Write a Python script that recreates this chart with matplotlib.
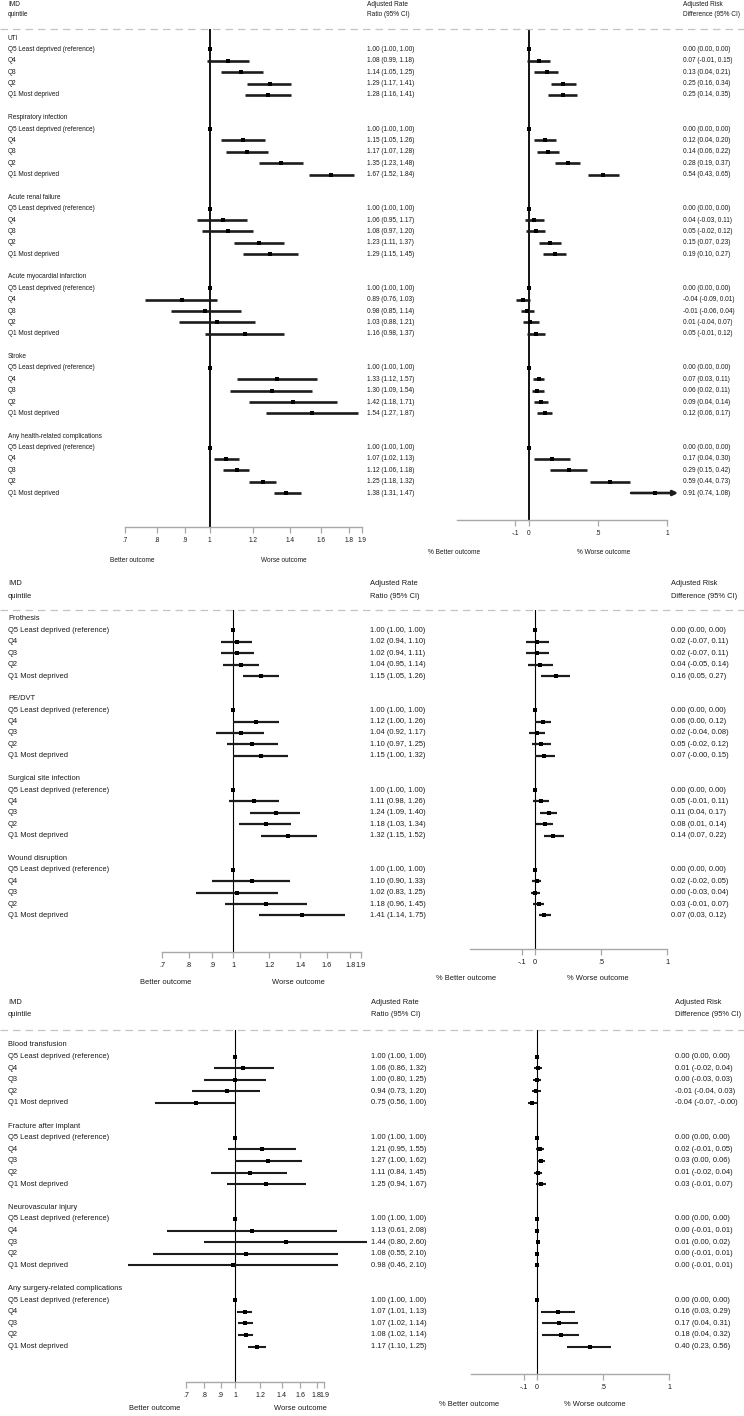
import matplotlib
matplotlib.use("Agg")
import matplotlib.pyplot as plt
from matplotlib.ticker import NullLocator, FixedLocator, FixedFormatter
from matplotlib.transforms import blended_transform_factory

plt.rcParams['font.family'] = ['Liberation Sans', 'DejaVu Sans']

W, H = 744, 1416
fig = plt.figure(figsize=(W / 100, H / 100), dpi=100)

quintiles = ["Q5 Least deprived (reference)", "Q4", "Q3", "Q2", "Q1 Most deprived"]

# ---------------- Panel 1: health-related complications ----------------
p1_outcomes = ["UTI", "Respiratory infection", "Acute renal failure",
               "Acute myocardial infarction", "Stroke", "Any health-related complications"]
p1_rr = [[1.00, 1.08, 1.14, 1.29, 1.28], [1.00, 1.15, 1.17, 1.35, 1.67],
         [1.00, 1.06, 1.08, 1.23, 1.29], [1.00, 0.89, 0.98, 1.03, 1.16],
         [1.00, 1.33, 1.30, 1.42, 1.54], [1.00, 1.07, 1.12, 1.25, 1.38]]
p1_rr_lo = [[1.00, 0.99, 1.05, 1.17, 1.16], [1.00, 1.05, 1.07, 1.23, 1.52],
            [1.00, 0.95, 0.97, 1.11, 1.15], [1.00, 0.76, 0.85, 0.88, 0.98],
            [1.00, 1.12, 1.09, 1.18, 1.27], [1.00, 1.02, 1.06, 1.18, 1.31]]
p1_rr_hi = [[1.00, 1.18, 1.25, 1.41, 1.41], [1.00, 1.26, 1.28, 1.48, 1.84],
            [1.00, 1.17, 1.20, 1.37, 1.45], [1.00, 1.03, 1.14, 1.21, 1.37],
            [1.00, 1.57, 1.54, 1.71, 1.87], [1.00, 1.13, 1.18, 1.32, 1.47]]
p1_rd = [[0.00, 0.07, 0.13, 0.25, 0.25], [0.00, 0.12, 0.14, 0.28, 0.54],
         [0.00, 0.04, 0.05, 0.15, 0.19], [0.00, -0.04, -0.01, 0.01, 0.05],
         [0.00, 0.07, 0.06, 0.09, 0.12], [0.00, 0.17, 0.29, 0.59, 0.91]]
p1_rd_lo = [[0.00, -0.01, 0.04, 0.16, 0.14], [0.00, 0.04, 0.06, 0.19, 0.43],
            [0.00, -0.03, -0.02, 0.07, 0.10], [0.00, -0.09, -0.06, -0.04, -0.01],
            [0.00, 0.03, 0.02, 0.04, 0.06], [0.00, 0.04, 0.15, 0.44, 0.74]]
p1_rd_hi = [[0.00, 0.15, 0.21, 0.34, 0.35], [0.00, 0.20, 0.22, 0.37, 0.65],
            [0.00, 0.11, 0.12, 0.23, 0.27], [0.00, 0.01, 0.04, 0.07, 0.12],
            [0.00, 0.11, 0.11, 0.14, 0.17], [0.00, 0.30, 0.42, 0.73, 1.08]]

# ---------------- Panel 2 ----------------
p2_outcomes = ["Prothesis", "PE/DVT", "Surgical site infection", "Wound disruption"]
p2_rr = [[1.00, 1.02, 1.02, 1.04, 1.15], [1.00, 1.12, 1.04, 1.10, 1.15],
         [1.00, 1.11, 1.24, 1.18, 1.32], [1.00, 1.10, 1.02, 1.18, 1.41]]
p2_rr_lo = [[1.00, 0.94, 0.94, 0.95, 1.05], [1.00, 1.00, 0.92, 0.97, 1.00],
            [1.00, 0.98, 1.09, 1.03, 1.15], [1.00, 0.90, 0.83, 0.96, 1.14]]
p2_rr_hi = [[1.00, 1.10, 1.11, 1.14, 1.26], [1.00, 1.26, 1.17, 1.25, 1.32],
            [1.00, 1.26, 1.40, 1.34, 1.52], [1.00, 1.33, 1.25, 1.45, 1.75]]
p2_rd = [[0.00, 0.02, 0.02, 0.04, 0.16], [0.00, 0.06, 0.02, 0.05, 0.07],
         [0.00, 0.05, 0.11, 0.08, 0.14], [0.00, 0.02, 0.00, 0.03, 0.07]]
p2_rd_lo = [[0.00, -0.07, -0.07, -0.05, 0.05], [0.00, 0.00, -0.04, -0.02, -0.0],
            [0.00, -0.01, 0.04, 0.01, 0.07], [0.00, -0.02, -0.03, -0.01, 0.03]]
p2_rd_hi = [[0.00, 0.11, 0.11, 0.14, 0.27], [0.00, 0.12, 0.08, 0.12, 0.15],
            [0.00, 0.11, 0.17, 0.14, 0.22], [0.00, 0.05, 0.04, 0.07, 0.12]]

# ---------------- Panel 3 ----------------
p3_outcomes = ["Blood transfusion", "Fracture after implant", "Neurovascular injury",
               "Any surgery-related complications"]
p3_rr = [[1.00, 1.06, 1.00, 0.94, 0.75], [1.00, 1.21, 1.27, 1.11, 1.25],
         [1.00, 1.13, 1.44, 1.08, 0.98], [1.00, 1.07, 1.07, 1.08, 1.17]]
p3_rr_lo = [[1.00, 0.86, 0.80, 0.73, 0.56], [1.00, 0.95, 1.00, 0.84, 0.94],
            [1.00, 0.61, 0.80, 0.55, 0.46], [1.00, 1.01, 1.02, 1.02, 1.10]]
p3_rr_hi = [[1.00, 1.32, 1.25, 1.20, 1.00], [1.00, 1.55, 1.62, 1.45, 1.67],
            [1.00, 2.08, 2.60, 2.10, 2.10], [1.00, 1.13, 1.14, 1.14, 1.25]]
p3_rd = [[0.00, 0.01, 0.00, -0.01, -0.04], [0.00, 0.02, 0.03, 0.01, 0.03],
         [0.00, 0.00, 0.01, 0.00, 0.00], [0.00, 0.16, 0.17, 0.18, 0.40]]
p3_rd_lo = [[0.00, -0.02, -0.03, -0.04, -0.07], [0.00, -0.01, 0.00, -0.02, -0.01],
            [0.00, -0.01, 0.00, -0.01, -0.01], [0.00, 0.03, 0.04, 0.04, 0.23]]
p3_rd_hi = [[0.00, 0.04, 0.03, 0.03, -0.0], [0.00, 0.05, 0.06, 0.04, 0.07],
            [0.00, 0.01, 0.02, 0.01, 0.01], [0.00, 0.29, 0.31, 0.32, 0.56]]

rr_ticks = [0.7, 0.8, 0.9, 1.0, 1.2, 1.4, 1.6, 1.8, 1.9]
rr_ticklabels = [".7", ".8", ".9", "1", "1.2", "1.4", "1.6", "1.8", "1.9"]
rd_ticks = [-0.1, 0.0, 0.5, 1.0]
rd_ticklabels = ["-.1", "0", ".5", "1"]

# layout (pixels)
panels = [
    dict(outcomes=p1_outcomes, rr=p1_rr, rr_lo=p1_rr_lo, rr_hi=p1_rr_hi,
         rd=p1_rd, rd_lo=p1_rd_lo, rd_hi=p1_rd_hi,
         fs=4.7, tfs=4.7, h1=4, h2=15, dash=29, row0=38, step=11.375,
         L=(125, 362, 527), Lx=(0.7, 1.9), R=(457, 667, 520), Rx=(-0.52, 1.0),
         tx=(8, 367, 683), lab_L=(132, 284, 560), lab_R=(454, 604, 553),
         vlw=1.3, cilw=1.9, ms=2.5),
    dict(outcomes=p2_outcomes, rr=p2_rr, rr_lo=p2_rr_lo, rr_hi=p2_rr_hi,
         rd=p2_rd, rd_lo=p2_rd_lo, rd_hi=p2_rd_hi,
         fs=5.45, tfs=5.3, h1=583, h2=596, dash=610, row0=619, step=11.4,
         L=(162, 361, 952), Lx=(0.7, 1.9), R=(470, 667, 949), Rx=(-0.49, 1.0),
         tx=(8, 370, 671), lab_L=(166, 298, 983), lab_R=(466, 598, 979),
         vlw=0.8, cilw=1.6, ms=2.2),
    dict(outcomes=p3_outcomes, rr=p3_rr, rr_lo=p3_rr_lo, rr_hi=p3_rr_hi,
         rd=p3_rd, rd_lo=p3_rd_lo, rd_hi=p3_rd_hi,
         fs=5.45, tfs=5.1, h1=1003, h2=1015, dash=1030, row0=1045, step=11.6,
         L=(186, 324, 1382), Lx=(0.7, 1.9), R=(471, 669, 1374), Rx=(-0.5, 1.0),
         tx=(8, 371, 675), lab_L=(155, 300, 1409), lab_R=(469, 595, 1404),
         vlw=0.8, cilw=1.5, ms=2.2),
]

AXCOL = "#a8a8a8"
TXT = "#1a1a1a"


def fx(px):
    return px / W


def fy(py):
    return 1 - py / H


def fmt(v, lo, hi):
    return f"{v:.2f} ({lo:.2f}, {hi:.2f})"


def make_ax(x0, x1, ybot, p):
    ax = fig.add_axes([fx(x0), fy(ybot), (x1 - x0) / W, (ybot - p['dash']) / H])
    ax.set_facecolor('none')
    top = (p['dash'] - p['row0']) / p['step']
    bot = (ybot - p['row0']) / p['step']
    ax.set_ylim(bot, top)
    for s in ['top', 'left', 'right']:
        ax.spines[s].set_visible(False)
    ax.spines['bottom'].set_color(AXCOL)
    ax.spines['bottom'].set_linewidth(1.0)
    ax.set_yticks([])
    ax.tick_params(axis='x', direction='out', length=4.5, width=0.9, color=AXCOL,
                   labelsize=p['tfs'], labelcolor=TXT, pad=3)
    return ax


for p in panels:
    fs = p['fs']
    # headers
    fig.text(fx(p['tx'][0]), fy(p['h1']), "IMD", fontsize=fs, va='center', ha='left', color=TXT)
    fig.text(fx(p['tx'][0]), fy(p['h2']), "quintile", fontsize=fs, va='center', ha='left', color=TXT)
    fig.text(fx(p['tx'][1]), fy(p['h1']), "Adjusted Rate", fontsize=fs, va='center', ha='left', color=TXT)
    fig.text(fx(p['tx'][1]), fy(p['h2']), "Ratio (95% CI)", fontsize=fs, va='center', ha='left', color=TXT)
    fig.text(fx(p['tx'][2]), fy(p['h1']), "Adjusted Risk", fontsize=fs, va='center', ha='left', color=TXT)
    fig.text(fx(p['tx'][2]), fy(p['h2']), "Difference (95% CI)", fontsize=fs, va='center', ha='left', color=TXT)
    # dashed separator
    fig.add_artist(plt.Line2D([0, 1], [fy(p['dash'])] * 2, transform=fig.transFigure,
                              color='#c4c4c4', lw=0.9, ls=(0, (6, 4))))

    # left forest (rate ratio, log scale)
    axL = make_ax(p['L'][0], p['L'][1], p['L'][2], p)
    axL.set_xscale('log')
    axL.set_xlim(*p['Lx'])
    axL.xaxis.set_major_locator(FixedLocator(rr_ticks))
    axL.xaxis.set_major_formatter(FixedFormatter(rr_ticklabels))
    axL.xaxis.set_minor_locator(NullLocator())
    axL.axvline(1.0, color='black', lw=p['vlw'], zorder=1)

    # right forest (risk difference, linear)
    axR = make_ax(p['R'][0], p['R'][1], p['R'][2], p)
    axR.set_xlim(*p['Rx'])
    axR.xaxis.set_major_locator(FixedLocator(rd_ticks))
    axR.xaxis.set_major_formatter(FixedFormatter(rd_ticklabels))
    axR.axvline(0.0, color='black', lw=p['vlw'], zorder=1)

    trL = blended_transform_factory(fig.transFigure, axL.transData)

    for g, name in enumerate(p['outcomes']):
        base = g * 7
        axL.text(fx(p['tx'][0]), base, name, transform=trL, fontsize=fs, va='center',
                 ha='left', color=TXT, clip_on=False)
        for q in range(5):
            y = base + 1 + q
            axL.text(fx(p['tx'][0]), y, quintiles[q], transform=trL, fontsize=fs,
                     va='center', ha='left', color=TXT, clip_on=False)
            v, lo, hi = p['rr'][g][q], p['rr_lo'][g][q], p['rr_hi'][g][q]
            axL.hlines(y, lo, hi, color='#1c1c1c', lw=p['cilw'], clip_on=False, zorder=2)
            axL.plot([v], [y], 's', color='black', ms=p['ms'], mew=0, clip_on=False, zorder=3)
            axL.text(fx(p['tx'][1]), y, fmt(v, lo, hi), transform=trL, fontsize=fs,
                     va='center', ha='left', color=TXT, clip_on=False)

            d, dlo, dhi = p['rd'][g][q], p['rd_lo'][g][q], p['rd_hi'][g][q]
            if dhi > p['Rx'][1]:
                axR.annotate("", xy=(dhi, y), xytext=(dlo, y),
                             arrowprops=dict(arrowstyle='-|>', color='#1c1c1c', lw=p['cilw'],
                                             mutation_scale=7, shrinkA=0, shrinkB=0),
                             annotation_clip=False, zorder=2)
            else:
                axR.hlines(y, dlo, dhi, color='#1c1c1c', lw=p['cilw'], clip_on=False, zorder=2)
            axR.plot([d], [y], 's', color='black', ms=p['ms'], mew=0, clip_on=False, zorder=3)
            axL.text(fx(p['tx'][2]), y, fmt(d, dlo, dhi), transform=trL, fontsize=fs,
                     va='center', ha='left', color=TXT, clip_on=False)

    # outcome direction labels
    fig.text(fx(p['lab_L'][0]), fy(p['lab_L'][2]), "Better outcome", fontsize=fs,
             ha='center', va='center', color=TXT)
    fig.text(fx(p['lab_L'][1]), fy(p['lab_L'][2]), "Worse outcome", fontsize=fs,
             ha='center', va='center', color=TXT)
    fig.text(fx(p['lab_R'][0]), fy(p['lab_R'][2]), "% Better outcome", fontsize=fs,
             ha='center', va='center', color=TXT)
    fig.text(fx(p['lab_R'][1]), fy(p['lab_R'][2]), "% Worse outcome", fontsize=fs,
             ha='center', va='center', color=TXT)

fig.savefig("out.png", dpi=100, facecolor='white')
